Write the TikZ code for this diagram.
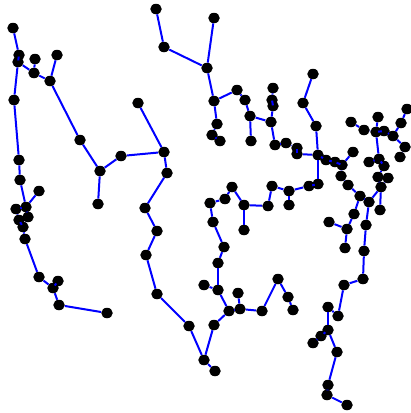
\documentclass[tikz,border=0pt]{standalone}
\usetikzlibrary{shapes.geometric}
\begin{document}
\begin{tikzpicture}[x=1pt,y=-1pt,
  vtx/.style={ellipse,fill=black,inner sep=0pt,minimum width=11.5pt,minimum height=10.5pt},
  edge/.style={draw=blue,line width=2pt}]
\useasboundingbox (0,0) rectangle (411,413);
\foreach \n/\x/\y in {a1/13/28,a2/19/55,a3/18/62,a4/35/59,a5/34/73,a6/57/55,a7/50/81,a8/14/100,a9/80/140,
 a10/19/160,a11/20/180,a12/26/207,a13/39/191,a14/16/209,a15/28/217,a16/19/220,a17/23/227,a18/25/239,
 a19/39/277,a20/58/281,a21/53/288,a22/59/305,a23/107/313,
 b1/138/103,b2/100/171,b3/98/204,b4/121/156,b5/164/152,b6/167/173,b7/145/208,b8/157/231,b9/146/255,
 b10/157/294,b11/189/326,b12/204/360,b13/215/371,b14/214/325,b15/229/311,b16/240/309,b17/238/293,
 b18/218/290,b19/204/285,b20/262/311,b21/278/279,b22/288/297,b23/293/310,b24/218/263,b25/224/247,
 b26/213/222,b27/210/203,b28/225/199,b29/232/187,b30/244/205,b31/244/230,b32/268/206,b33/272/186,
 b34/289/191,b35/289/205,b36/309/186,b37/318/184,
 c1/156/9,c2/164/47,c3/214/18,c4/207/68,c5/214/101,c6/237/90,c7/245/100,c8/250/116,c9/217/124,
 c10/212/135,c11/220/141,c12/251/141,c13/273/88,c14/272/100,c15/273/106,c16/271/122,c17/275/145,
 c18/286/143,c19/297/148,c20/297/154,c21/318/155,c22/313/74,c23/303/103,c24/316/126,c25/326/160,
 c26/335/162,c27/342/165,c28/353/152,c29/341/176,c30/348/185,c31/360/196,c32/369/202,
 d1/351/122,d2/364/130,d3/378/117,d4/376/132,d5/384/131,d6/393/136,d7/401/123,d8/407/109,d9/405/147,
 d10/400/157,d11/369/162,d12/379/159,d13/384/166,d14/378/177,d15/388/178,d16/381/187,d17/380/210,
 e1/354/214,e2/329/222,e3/347/229,e4/345/248,e5/366/225,e6/364/251,e7/363/279,e8/344/285,e9/338/316,
 e10/328/307,e11/328/330,e12/321/336,e13/313/343,e14/337/352,e15/328/385,e16/327/395,e17/347/405}
 {\node[vtx] (\n) at (\x,\y) {};}
\foreach \u/\v in {a1/a2,a2/a3,a3/a5,a4/a5,a5/a7,a6/a7,a7/a9,a3/a8,a8/a10,a10/a11,a11/a12,a12/a13,
 a12/a14,a12/a15,a14/a16,a15/a17,a16/a17,a17/a18,a18/a19,a19/a21,a20/a21,a21/a22,a22/a23,
 a9/b2,b2/b3,b2/b4,b4/b5,b1/b5,b5/b6,b6/b7,b7/b8,b8/b9,b9/b10,b10/b11,b11/b12,b12/b13,b12/b14,
 b14/b15,b15/b16,b16/b17,b16/b20,b15/b18,b18/b19,b18/b24,b24/b25,b25/b26,b26/b27,b27/b28,b28/b29,
 b29/b30,b30/b31,b30/b32,b32/b33,b33/b34,b34/b35,b34/b36,b36/b37,b20/b21,b21/b22,b22/b23,
 c1/c2,c2/c4,c3/c4,c4/c5,c5/c6,c6/c7,c7/c8,c8/c16,c5/c9,c9/c10,c10/c11,c8/c12,c13/c14,c14/c15,
 c15/c16,c16/c17,c17/c18,c18/c19,c19/c20,c20/c21,c22/c23,c23/c24,c24/c21,c21/b37,c21/c25,c25/c26,
 c26/c27,c27/c28,c27/c29,c29/c30,c30/c31,c31/c32,
 d1/d2,d2/d4,d3/d4,d4/d5,d5/d6,d6/d7,d7/d8,d6/d9,d9/d10,d4/d12,d11/d12,d12/d13,d13/d14,d14/d16,
 d15/d16,d16/c32,d16/d17,
 c31/e1,e1/e3,e2/e3,e3/e4,c32/e5,e5/e6,e6/e7,e7/e8,e8/e9,e9/e10,e10/e11,e11/e12,e12/e13,e11/e14,
 e14/e15,e15/e16,e16/e17}
 {\draw[edge] (\u) -- (\v);}
\end{tikzpicture}
\end{document}
